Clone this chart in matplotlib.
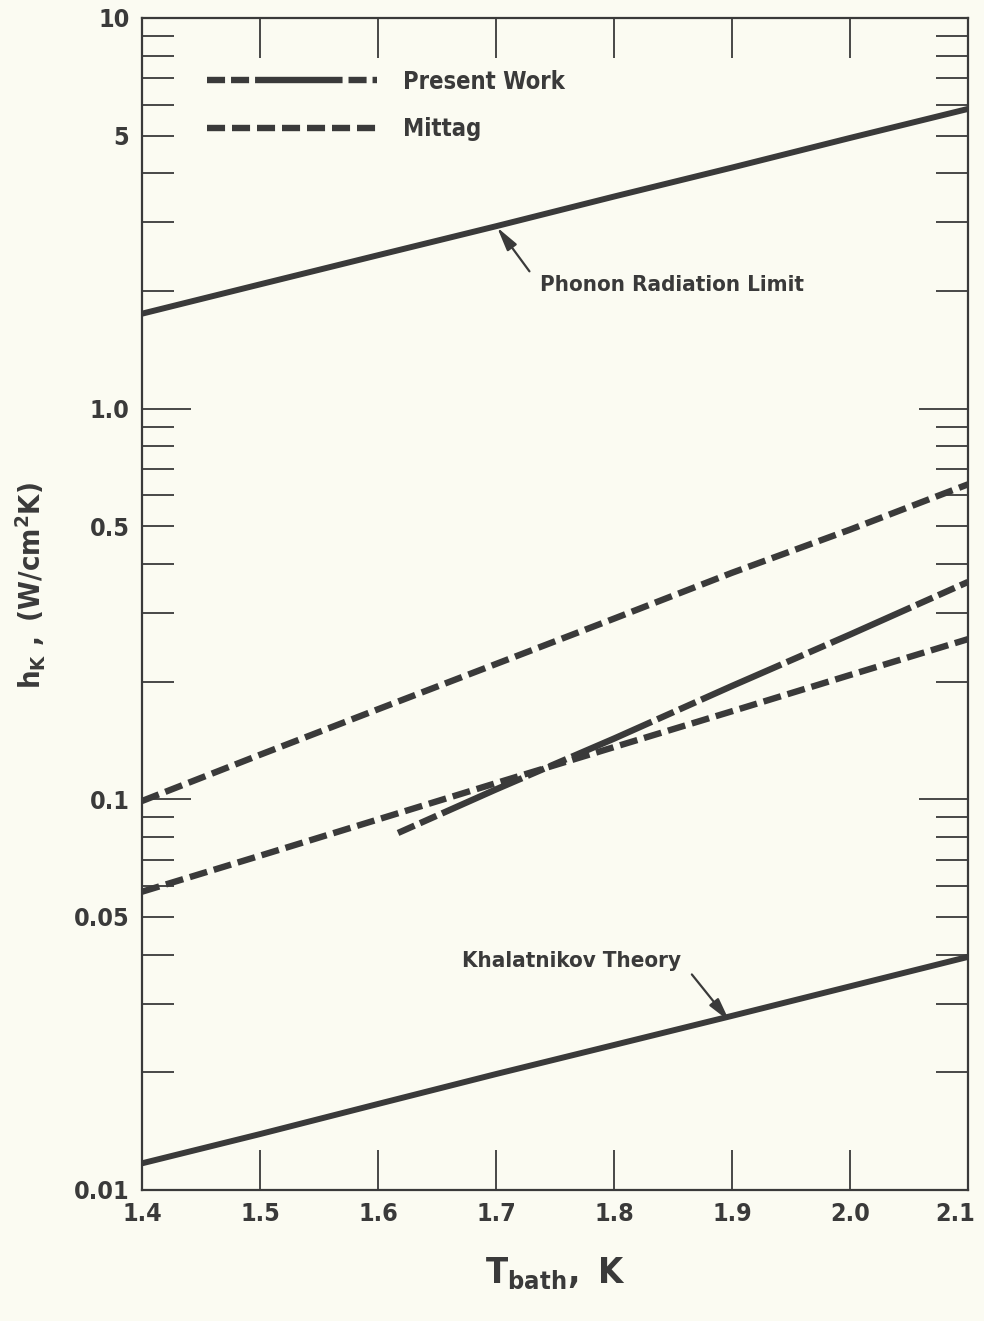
import matplotlib
matplotlib.use("Agg")
import matplotlib.pyplot as plt
import matplotlib.transforms as mtransforms
from matplotlib.ticker import FixedLocator, NullLocator

# values
T_grid = [1.4, 1.5, 1.6, 1.7, 1.8, 1.9, 2.0, 2.1]
h_phonon = [1.75, 2.08, 2.47, 2.93, 3.49, 4.14, 4.93, 5.85]
h_khal = [0.0117, 0.0139, 0.0166, 0.0198, 0.0235, 0.0279, 0.0332, 0.0395]
h_mittag_hi = [0.099, 0.130, 0.170, 0.222, 0.29, 0.38, 0.49, 0.64]
h_mittag_lo = [0.058, 0.0717, 0.0888, 0.110, 0.136, 0.168, 0.208, 0.257]
T_present = [1.617, 1.7, 1.8, 1.9, 2.0, 2.1]
h_present = [0.082, 0.106, 0.143, 0.195, 0.264, 0.36]

x_ticks = [1.4, 1.5, 1.6, 1.7, 1.8, 1.9, 2.0, 2.1]
x_labels = ["1.4", "1.5", "1.6", "1.7", "1.8", "1.9", "2.0", "2.1"]
y_major = [0.01, 0.1, 1.0, 10]
y_major_labels = ["0.01", "0.1", "1.0", "10"]
y_minor = [0.02, 0.03, 0.04, 0.05, 0.06, 0.07, 0.08, 0.09,
           0.2, 0.3, 0.4, 0.5, 0.6, 0.7, 0.8, 0.9,
           2, 3, 4, 5, 6, 7, 8, 9]
y_minor_labels = ["", "", "", "0.05", "", "", "", "",
                  "", "", "", "0.5", "", "", "", "",
                  "", "", "", "5", "", "", "", ""]

ink = "#3a3a3a"
paper = "#fbfbf2"

plt.rcParams["font.family"] = ["DejaVu Sans"]
plt.rcParams["font.stretch"] = "condensed"
plt.rcParams["font.weight"] = "bold"
plt.rcParams["lines.scale_dashes"] = False
plt.rcParams["mathtext.fontset"] = "custom"
plt.rcParams["mathtext.rm"] = "DejaVu Sans:weight=bold:stretch=condensed"
plt.rcParams["mathtext.it"] = "DejaVu Sans:weight=bold:stretch=condensed"
plt.rcParams["mathtext.bf"] = "DejaVu Sans:weight=bold:stretch=condensed"
plt.rcParams["mathtext.default"] = "rm"

fig = plt.figure(figsize=(9.84, 13.21), dpi=100, facecolor=paper)
ax = fig.add_axes([0.1443, 0.0992, 0.8394, 0.8872], facecolor=paper)

ax.plot(T_grid, h_phonon, color=ink, lw=4.3, solid_capstyle="butt")
ax.plot(T_grid, h_khal, color=ink, lw=4.3, solid_capstyle="butt")
mt, = ax.plot(T_grid, h_mittag_hi, color=ink, lw=4.6, dashes=(13, 5),
              dash_capstyle="butt", label="Mittag")
ax.plot(T_grid, h_mittag_lo, color=ink, lw=4.6, dashes=(13, 5),
        dash_capstyle="butt")
pw, = ax.plot(T_present, h_present, color=ink, lw=4.6,
              dash_capstyle="butt", label="Present Work")
pw.set_dashes([13, 4.3, 13, 4.3, 63, 4.3])

ax.set_yscale("log")
ax.set_xlim(1.4, 2.1)
ax.set_ylim(0.01, 10)

ax.xaxis.set_major_locator(FixedLocator(x_ticks))
ax.set_xticklabels(x_labels)
ax.xaxis.set_minor_locator(NullLocator())
ax.yaxis.set_major_locator(FixedLocator(y_major))
ax.set_yticklabels(y_major_labels)
ax.yaxis.set_minor_locator(FixedLocator(y_minor))
ax.set_yticklabels(y_minor_labels, minor=True)

ax.tick_params(which="both", direction="in", top=True, right=True,
               colors=ink, labelsize=18, width=1.3)
ax.tick_params(axis="x", which="major", length=29, pad=9)
ax.tick_params(axis="y", which="major", length=35, pad=9)
ax.tick_params(axis="y", which="minor", length=23, pad=9)
for s in ax.spines.values():
    s.set_linewidth(1.6)
    s.set_color(ink)

# last x label sits right at the figure edge, nudge it in a little
last = ax.get_xticklabels()[-1]
last.set_transform(last.get_transform() +
                   mtransforms.ScaledTranslation(-9 / 72, 0, fig.dpi_scale_trans))

ax.set_xlabel(r"$T_{bath},\ K$", fontsize=26, color=ink)
ax.xaxis.set_label_coords(0.5, -0.056)
ax.set_ylabel(r"$h_K\ ,\ (W/cm^2K)$", fontsize=21, color=ink)
ax.yaxis.set_label_coords(-0.114, 0.516)

leg = ax.legend(handles=[pw, mt], loc="upper left",
                bbox_to_anchor=(0.0787, 0.956), frameon=False,
                fontsize=17, handlelength=7.2, handletextpad=1.1,
                labelspacing=1.0, borderpad=0, borderaxespad=0)
for t in leg.get_texts():
    t.set_color(ink)

arrow = dict(arrowstyle="-|>,head_length=0.9,head_width=0.22",
             color=ink, lw=1.6)
ax.annotate("Phonon Radiation Limit", xy=(1.701, 2.91), xytext=(1.737, 2.07),
            fontsize=16, color=ink, ha="left", va="center",
            arrowprops=dict(arrow, relpos=(0, 0.5), shrinkA=9, shrinkB=0))
ax.annotate("Khalatnikov Theory", xy=(1.898, 0.027), xytext=(1.857, 0.0385),
            fontsize=16, color=ink, ha="right", va="center",
            arrowprops=dict(arrow, relpos=(1, 0.5), shrinkA=9, shrinkB=0))

plt.savefig("out.png", dpi=100, facecolor=paper)
